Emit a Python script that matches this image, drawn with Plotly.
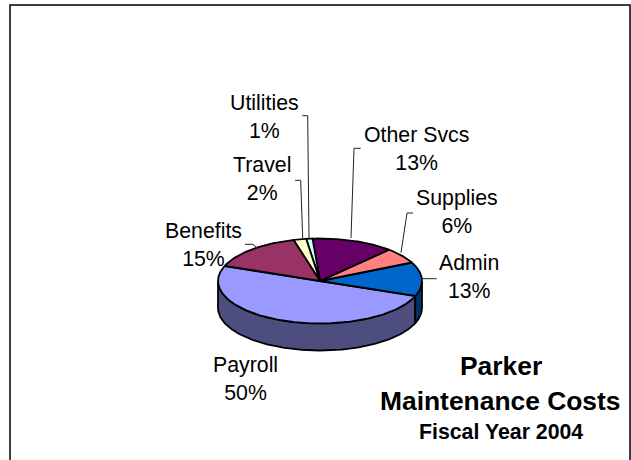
import numpy as np
import plotly.graph_objects as go

categories = ["Payroll", "Admin", "Supplies", "Other Svcs", "Utilities", "Travel", "Benefits"]
values = [50, 13, 6, 13, 1, 2, 15]
top_colors = ["#9999FF", "#0066CC", "#FF8080", "#660066", "#CCFFFF", "#FFFFCC", "#993366"]
side_colors = ["#4D4D80", "#003366", "#804040", "#330033", "#668080", "#808066", "#4D1A33"]

W, H = 631, 460
CX, CY, RX, RY, DEPTH = 320, 281, 102, 42.5, 27
START_ANGLE = 159

label_pos = {
    "Payroll": (245, 378.5), "Admin": (469, 277), "Supplies": (457, 212),
    "Other Svcs": (416, 149), "Utilities": (264, 116.5), "Travel": (262, 179),
    "Benefits": (203, 244.5),
}
leaders = [
    [(302.3, 115.7), (307.7, 115.7), (309, 238)],
    [(295, 180.3), (300.7, 180.3), (302.7, 238)],
    [(360.7, 148.3), (354, 148.3), (351, 238)],
    [(413, 213), (407, 213), (401, 252.7)],
    [(421.7, 278.7), (436.7, 278.7)],
    [(245, 244.3), (253, 244.3), (257, 248)],
]

def rim(a0, a1, dy=0.0):
    t = np.radians(np.linspace(a0, a1, max(int(abs(a1 - a0)) * 2, 2)))
    return CX + RX * np.cos(t), CY - RY * np.sin(t) + dy

fig = go.Figure()
edges = START_ANGLE + np.cumsum([0] + [v * 3.6 for v in values])

# extruded side
for i in range(len(values)):
    a0, a1 = edges[i], edges[i + 1]
    lo, hi = max(a0, 180), min(a1, 360)
    if hi > lo:
        x1, y1 = rim(lo, hi)
        x2, y2 = rim(hi, lo, DEPTH)
        fig.add_trace(go.Scatter(x=np.r_[x1, x2, x1[0]], y=np.r_[y1, y2, y1[0]], mode="lines",
                                 fill="toself", fillcolor=side_colors[i],
                                 line=dict(color="black", width=1.8), hoverinfo="skip"))
# top faces
for i in range(len(values)):
    x1, y1 = rim(edges[i], edges[i + 1])
    fig.add_trace(go.Scatter(x=np.r_[CX, x1, CX], y=np.r_[CY, y1, CY], mode="lines",
                             fill="toself", fillcolor=top_colors[i],
                             line=dict(color="black", width=1.8), hoverinfo="skip"))
# leader lines
for pts in leaders:
    fig.add_trace(go.Scatter(x=[p[0] for p in pts], y=[p[1] for p in pts], mode="lines",
                             line=dict(color="#222222", width=1), hoverinfo="skip"))

FONT = "Liberation Sans, Arial, sans-serif"
annotations = []
for c, v in zip(categories, values):
    x, y = label_pos[c]
    annotations.append(dict(x=x, y=y, text=f"{c}<br>{v}%", showarrow=False, xref="x", yref="y",
                            font=dict(family=FONT, size=21.3, color="black"), align="center"))
annotations += [
    dict(x=500.5, y=366, text="<b>Parker</b>", showarrow=False, font=dict(family=FONT, size=26.4, color="black")),
    dict(x=500.5, y=401, text="<b>Maintenance Costs</b>", showarrow=False, font=dict(family=FONT, size=26.4, color="black")),
    dict(x=500.5, y=432, text="<b>Fiscal Year 2004</b>", showarrow=False, font=dict(family=FONT, size=21.3, color="black")),
]

fig.update_layout(
    width=W, height=H, margin=dict(l=0, r=0, t=0, b=0), showlegend=False,
    paper_bgcolor="white", plot_bgcolor="white",
    xaxis=dict(range=[0, W], visible=False, fixedrange=True),
    yaxis=dict(range=[H, 0], visible=False, fixedrange=True),
    annotations=annotations,
    shapes=[dict(type="rect", xref="x", yref="y", x0=10, y0=5, x1=630, y1=480,
                 line=dict(color="black", width=1.5), layer="below")],
)
fig.write_html("out.html", config=dict(displayModeBar=False),
               post_script="document.body.style.margin='0';")
